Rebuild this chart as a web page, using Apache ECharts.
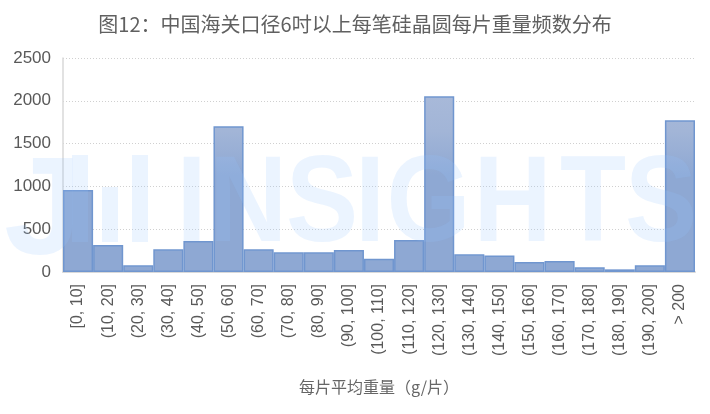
<!DOCTYPE html>
<html>
<head>
<meta charset="utf-8">
<script src="https://cdn.jsdelivr.net/npm/echarts@6/dist/echarts.min.js"></script>
<style>html,body{margin:0;padding:0;background:#fff}#c{width:710px;height:414px}</style>
</head>
<body>
<div id="c"></div>
<script>
const titleText = '图12：中国海关口径6吋以上每笔硅晶圆每片重量频数分布';
const xAxisName = '每片平均重量（g/片）';
const categories = ['[0, 10]','(10, 20]','(20, 30]','(30, 40]','(40, 50]','(50, 60]','(60, 70]','(70, 80]','(80, 90]','(90, 100]','(100, 110]','(110, 120]','(120, 130]','(130, 140]','(140, 150]','(150, 160]','(160, 170]','(170, 180]','(180, 190]','(190, 200]','> 200'];
const counts = [958, 315, 78, 265, 362, 1702, 265, 230, 230, 257, 156, 374, 2052, 206, 194, 117, 128, 55, 31, 78, 1772];
const yTicks = [0, 500, 1000, 1500, 2000, 2500];

const chart = echarts.init(document.getElementById('c'), null, {renderer: 'canvas'});
const wmFill = 'rgba(150,195,255,0.19)';
const wmFont = {fontFamily: 'Liberation Sans', fontWeight: 'bold', fontSize: 123, fill: wmFill, align: 'center', verticalAlign: 'middle'};
const letters = [['I',191.5],['N',248],['S',322],['I',370],['G',428.5],['H',512.5],['T',593],['S',661]];
const graphics = letters.map(([t, cx]) => ({
  type: 'text', x: cx, y: 207, scaleX: 0.88, z: 100, silent: true,
  style: Object.assign({text: t}, wmFont)
}));
graphics.push({type: 'text', x: 43, y: 215, z: 100, silent: true, style: Object.assign({}, wmFont, {text: 'J', fontSize: 140})});
graphics.push({type: 'rect', z: 100, silent: true, shape: {x: 72, y: 155, width: 16, height: 87}, style: {fill: wmFill}});
graphics.push({type: 'rect', z: 100, silent: true, shape: {x: 102, y: 187, width: 16, height: 55}, style: {fill: wmFill}});
graphics.push({type: 'rect', z: 100, silent: true, shape: {x: 132, y: 155, width: 16, height: 87}, style: {fill: wmFill}});

chart.setOption({
  animation: false,
  backgroundColor: '#ffffff',
  title: {
    text: titleText, left: 'center', top: 9,
    textStyle: {fontFamily: 'Noto Sans CJK SC', fontWeight: 'normal', fontSize: 20, color: '#606060'}
  },
  grid: {left: 63, right: 15, top: 58, bottom: 142, containLabel: false},
  xAxis: {
    type: 'category', data: categories,
    name: xAxisName, nameLocation: 'middle', nameGap: 107,
    nameTextStyle: {fontFamily: 'Noto Sans CJK SC', fontSize: 16, color: '#666666'},
    axisLine: {lineStyle: {color: '#d9d9d9', width: 2}},
    axisTick: {show: false},
    axisLabel: {rotate: 90, interval: 0, margin: 12, fontFamily: 'Liberation Sans', fontSize: 16, color: '#595959'}
  },
  yAxis: {
    type: 'value', min: 0, max: 2500, interval: 500,
    axisLine: {show: true, lineStyle: {color: '#d9d9d9', width: 1.5}},
    axisTick: {show: false},
    axisLabel: {fontFamily: 'Liberation Sans', fontSize: 17, color: '#595959', margin: 12,
      formatter: v => yTicks.includes(v) ? String(v) : ''},
    splitLine: {lineStyle: {color: '#d0d0d0', type: [1, 2], width: 1}}
  },
  series: [{
    type: 'bar', data: counts, barCategoryGap: '0%',
    itemStyle: {
      color: new echarts.graphic.LinearGradient(0, 95, 0, 175, [
        {offset: 0, color: '#a8b9d9'}, {offset: 0.45, color: '#a2b5d7'}, {offset: 1, color: '#8ea8d3'}
      ], true),
      borderColor: '#7096cf', borderWidth: 1.5
    }
  }],
  graphic: graphics
});
</script>
</body>
</html>
